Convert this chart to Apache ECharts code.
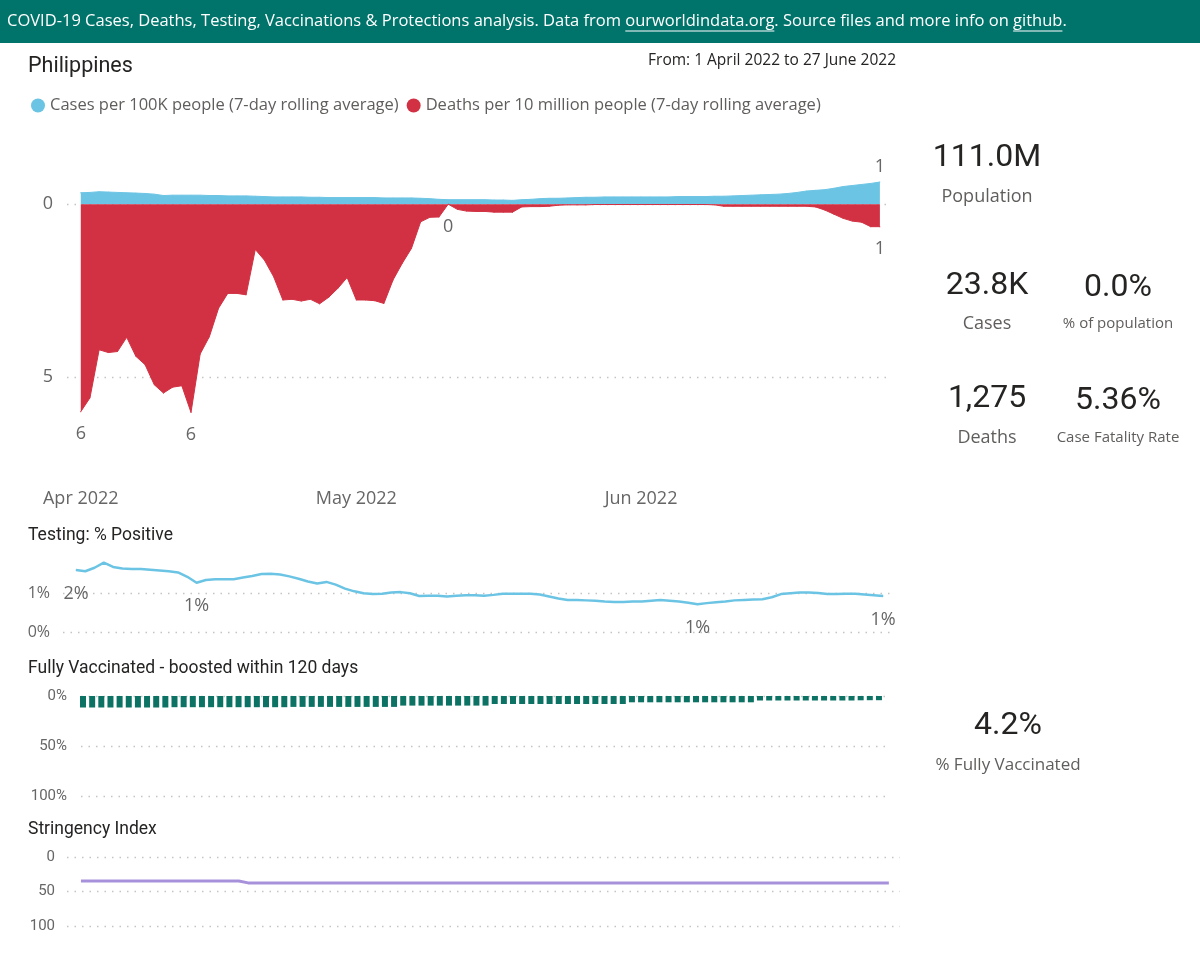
<!DOCTYPE html>
<html>
<head>
<meta charset="utf-8">
<script src="https://cdn.jsdelivr.net/npm/echarts@6/dist/echarts.min.js"></script>
<style>
  html, body { margin: 0; padding: 0; background: #fff; }
  #main { width: 1200px; height: 962px; }
</style>
</head>
<body>
<div id="main"></div>
<script>
// day index 0 = 1 April 2022, 87 = 27 June 2022
var monthTicks = [0, 30, 61];
var monthLabels = ['Apr 2022', 'May 2022', 'Jun 2022'];

var casesPer100k = [
  0.33, 0.34, 0.36, 0.35, 0.34, 0.33, 0.32, 0.31, 0.29, 0.25,
  0.26, 0.26, 0.26, 0.26, 0.25, 0.25, 0.24, 0.24, 0.24, 0.23,
  0.22, 0.21, 0.21, 0.21, 0.21, 0.20, 0.20, 0.19, 0.19, 0.19,
  0.19, 0.19, 0.19, 0.18, 0.18, 0.18, 0.18, 0.17, 0.16, 0.14,
  0.13, 0.13, 0.13, 0.13, 0.13, 0.12, 0.12, 0.11, 0.13, 0.14,
  0.16, 0.17, 0.17, 0.18, 0.19, 0.20, 0.20, 0.21, 0.21, 0.21,
  0.21, 0.21, 0.21, 0.21, 0.21, 0.22, 0.22, 0.22, 0.22, 0.23,
  0.23, 0.24, 0.25, 0.26, 0.27, 0.28, 0.29, 0.31, 0.34, 0.38,
  0.40, 0.42, 0.46, 0.51, 0.54, 0.57, 0.60, 0.64
];
var deathsPer10m = [
  6.00, 5.60, 4.21, 4.29, 4.26, 3.85, 4.40, 4.64, 5.22, 5.46,
  5.29, 5.25, 6.02, 4.33, 3.83, 3.01, 2.58, 2.58, 2.62, 1.31,
  1.62, 2.10, 2.77, 2.75, 2.80, 2.75, 2.88, 2.69, 2.43, 2.12,
  2.77, 2.77, 2.79, 2.87, 2.19, 1.71, 1.28, 0.51, 0.38, 0.37,
  0.00, 0.15, 0.20, 0.21, 0.21, 0.23, 0.23, 0.23, 0.08, 0.07,
  0.07, 0.06, 0.03, 0.02, 0.02, 0.02, 0.01, 0.01, 0.01, 0.01,
  0.01, 0.01, 0.01, 0.01, 0.01, 0.01, 0.01, 0.01, 0.01, 0.02,
  0.06, 0.06, 0.06, 0.06, 0.06, 0.06, 0.06, 0.06, 0.06, 0.06,
  0.08, 0.17, 0.29, 0.41, 0.49, 0.52, 0.65, 0.65
];
var testPositive = [
  1.59, 1.56, 1.65, 1.78, 1.67, 1.63, 1.62, 1.62, 1.60, 1.58,
  1.56, 1.53, 1.42, 1.27, 1.34, 1.36, 1.36, 1.36, 1.40, 1.44,
  1.49, 1.50, 1.48, 1.43, 1.37, 1.30, 1.25, 1.29, 1.22, 1.12,
  1.05, 1.00, 0.98, 0.99, 1.02, 1.03, 1.00, 0.93, 0.94, 0.94,
  0.92, 0.94, 0.95, 0.95, 0.94, 0.96, 0.99, 0.99, 0.99, 0.99,
  0.97, 0.92, 0.87, 0.83, 0.83, 0.82, 0.81, 0.79, 0.78, 0.78,
  0.79, 0.79, 0.81, 0.83, 0.81, 0.79, 0.76, 0.72, 0.75, 0.77,
  0.79, 0.82, 0.83, 0.84, 0.85, 0.90, 0.98, 1.00, 1.02, 1.02,
  1.01, 0.98, 0.98, 0.99, 0.99, 0.97, 0.95, 0.93
];
var boostedPct = [
  11.5, 11.5, 11.5, 11.5, 11.5, 11.5, 11.5, 11.5, 11.5, 11.5,
  11.2, 11.2, 11.2, 11.2, 11.2, 11.2, 11.2, 11.2, 11.2, 11.2,
  11.2, 11.2, 11.2, 10.9, 10.9, 10.9, 10.9, 10.9, 10.9, 10.9,
  10.9, 10.9, 10.9, 10.9, 10.9, 9.6, 9.6, 9.6, 9.6, 9.6,
  9.6, 9.6, 9.6, 9.6, 9.6, 8.0, 8.0, 8.0, 8.0, 8.0,
  8.0, 8.0, 8.0, 8.0, 8.0, 8.0, 8.0, 8.0, 8.0, 8.0,
  6.3, 6.3, 6.3, 6.3, 6.3, 6.3, 6.3, 6.3, 6.3, 6.3,
  6.3, 6.3, 6.3, 6.3, 4.5, 4.5, 4.5, 4.5, 4.5, 4.5,
  4.5, 4.5, 4.5, 4.5, 4.5, 4.3, 4.2, 4.2
];
var stringency = [
  34.72, 34.72, 34.72, 34.72, 34.72, 34.72, 34.72, 34.72, 34.72, 34.72,
  34.72, 34.72, 34.72, 34.72, 34.72, 34.72, 34.72, 37.5, 37.5, 37.5,
  37.5, 37.5, 37.5, 37.5, 37.5, 37.5, 37.5, 37.5, 37.5, 37.5,
  37.5, 37.5, 37.5, 37.5, 37.5, 37.5, 37.5, 37.5, 37.5, 37.5,
  37.5, 37.5, 37.5, 37.5, 37.5, 37.5, 37.5, 37.5, 37.5, 37.5,
  37.5, 37.5, 37.5, 37.5, 37.5, 37.5, 37.5, 37.5, 37.5, 37.5,
  37.5, 37.5, 37.5, 37.5, 37.5, 37.5, 37.5, 37.5, 37.5, 37.5,
  37.5, 37.5, 37.5, 37.5, 37.5, 37.5, 37.5, 37.5, 37.5, 37.5,
  37.5, 37.5, 37.5, 37.5, 37.5, 37.5, 37.5, 37.5
];

// which days carry a data label
var caseLabelDays = [87];
var deathLabelDays = [0, 12, 40, 87];
var testLabelDays = [0, 13, 67, 87];

var kpis = [
  {value: '111.0M', name: 'Population', x: 987, y: 158, ny: 197, ns: 18},
  {value: '23.8K', name: 'Cases', x: 987, y: 286, ny: 324, ns: 18},
  {value: '0.0%', name: '% of population', x: 1118, y: 288, ny: 324, ns: 15},
  {value: '1,275', name: 'Deaths', x: 987, y: 399, ny: 438, ns: 18},
  {value: '5.36%', name: 'Case Fatality Rate', x: 1118, y: 401, ny: 438, ns: 15},
  {value: '4.2%', name: '% Fully Vaccinated', x: 1008, y: 726, ny: 765, ns: 17}
];

var SANS = '"Open Sans", "Noto Sans", sans-serif';
var DIN = 'Roboto, "Noto Sans", sans-serif';
var BLUE = '#6CC4E4';
var RED = '#D13142';
var TEAL = '#00736A';
var PURPLE = '#A891DB';
var GREY = '#666666';
var DARK = '#252423';
var dots = {color: '#c4c4c4', width: 1.3, type: [1.5, 6]};

function toPoints(values, sign, labelDays) {
  return values.map(function (v, i) {
    var item = {value: [i, sign * v]};
    if (labelDays && labelDays.indexOf(i) >= 0) item.label = {show: true};
    return item;
  });
}

function txt(text, x, y, size, family, fill, align) {
  return {
    type: 'text', silent: true,
    style: {
      text: text, x: x, y: y, fontSize: size, fontFamily: family, fill: fill,
      align: align || 'left', textAlign: align || 'left',
      verticalAlign: 'middle', textVerticalAlign: 'middle'
    }
  };
}

// header bar with underlined links
var headerParts = [
  {text: 'COVID-19 Cases, Deaths, Testing, Vaccinations & Protections analysis. Data from '},
  {text: 'ourworldindata.org', link: true},
  {text: '. Source files and more info on '},
  {text: 'github', link: true},
  {text: '.'}
];
var headerSize = 16.5;
var ctx = document.createElement('canvas').getContext('2d');
ctx.font = headerSize + 'px ' + SANS;
var graphics = [{type: 'rect', silent: true, shape: {x: 0, y: 0, width: 1200, height: 43}, style: {fill: TEAL}}];
var hx = 7;
headerParts.forEach(function (p) {
  var w = ctx.measureText(p.text).width;
  graphics.push(txt(p.text, hx, 21, headerSize, SANS, '#ffffff'));
  if (p.link) {
    graphics.push({type: 'line', silent: true, shape: {x1: hx, y1: 31, x2: hx + w, y2: 31}, style: {stroke: '#ffffff', lineWidth: 1}});
  }
  hx += w;
});

graphics.push(txt('Philippines', 28, 67, 21.5, DIN, DARK));
graphics.push(txt('From: 1 April 2022 to 27 June 2022', 896, 61, 15.5, SANS, DARK, 'right'));
graphics.push(txt('Testing: % Positive', 28, 536, 17.5, DIN, DARK));
graphics.push(txt('Fully Vaccinated - boosted within 120 days', 28, 669, 17.5, DIN, DARK));
graphics.push(txt('Stringency Index', 28, 830, 17.5, DIN, DARK));
kpis.forEach(function (k) {
  graphics.push(txt(k.value, k.x, k.y, 32, DIN, DARK, 'center'));
  graphics.push(txt(k.name, k.x, k.ny, k.ns, SANS, '#605E5C', 'center'));
});

function hiddenX(i, min, max) {
  return {gridIndex: i, type: 'value', min: min, max: max, show: false, splitLine: {show: false}};
}

var option = {
  animation: false,
  textStyle: {fontFamily: SANS},
  legend: {
    left: 26, top: 92, icon: 'circle', itemWidth: 14, itemHeight: 14, itemGap: 8,
    textStyle: {fontSize: 16.5, color: '#605E5C', fontFamily: SANS},
    data: [
      {name: 'Cases per 100K people (7-day rolling average)', itemStyle: {color: BLUE}},
      {name: 'Deaths per 10 million people (7-day rolling average)', itemStyle: {color: RED}}
    ],
    selectedMode: false
  },
  graphic: graphics,
  grid: [
    {left: 67, top: 135, width: 823, height: 294},
    {left: 63, top: 554, width: 827, height: 78.6},
    {left: 81, top: 696, width: 805, height: 100},
    {left: 67, top: 857, width: 833, height: 69}
  ],
  xAxis: [
    {
      gridIndex: 0, type: 'value', min: -1.5, max: 88.1,
      axisLine: {show: false}, axisTick: {show: false}, splitLine: {show: false},
      axisLabel: {
        customValues: monthTicks, margin: 61, fontSize: 18, color: GREY, fontFamily: SANS,
        formatter: function (v) { return monthLabels[monthTicks.indexOf(v)]; }
      }
    },
    hiddenX(1, -1.4, 87.75),
    hiddenX(2, -0.22, 87.77),
    hiddenX(3, -1.5, 88.2)
  ],
  yAxis: [
    {
      gridIndex: 0, type: 'value', min: -6.5, max: 2,
      axisLine: {show: false},
      axisTick: {show: false, customValues: [-5, 0]},
      axisLabel: {customValues: [-5, 0], margin: 14, fontSize: 18, color: GREY, fontFamily: SANS,
        formatter: function (v) { return Math.abs(v); }},
      splitLine: {show: true, lineStyle: dots}
    },
    {
      gridIndex: 1, type: 'value', min: 0, max: 2,
      axisLine: {show: false},
      axisTick: {show: false, customValues: [0, 1]},
      axisLabel: {customValues: [0, 1], margin: 13, fontSize: 16, color: GREY, fontFamily: SANS, formatter: '{value}%'},
      splitLine: {show: true, lineStyle: dots}
    },
    {
      gridIndex: 2, type: 'value', min: 0, max: 100, inverse: true,
      axisLine: {show: false},
      axisTick: {show: false, customValues: [0, 50, 100]},
      axisLabel: {customValues: [0, 50, 100], margin: 14, fontSize: 15, color: GREY, fontFamily: DIN, formatter: '{value}%'},
      splitLine: {show: true, lineStyle: dots}
    },
    {
      gridIndex: 3, type: 'value', min: 0, max: 100, inverse: true,
      axisLine: {show: false},
      axisTick: {show: false, customValues: [0, 50, 100]},
      axisLabel: {customValues: [0, 50, 100], margin: 12, fontSize: 15, color: GREY, fontFamily: DIN},
      splitLine: {show: true, lineStyle: dots}
    }
  ],
  series: [
    {
      name: 'Cases per 100K people (7-day rolling average)',
      type: 'line', xAxisIndex: 0, yAxisIndex: 0,
      data: toPoints(casesPer100k, 1, caseLabelDays),
      symbol: 'circle', symbolSize: 1, showSymbol: true,
      itemStyle: {color: BLUE}, lineStyle: {color: BLUE, width: 1},
      areaStyle: {color: BLUE, opacity: 1},
      label: {show: false, position: 'top', distance: 6, fontSize: 18, color: GREY, fontFamily: SANS,
        formatter: function (p) { return Math.round(Math.abs(p.value[1])); }},
      silent: true
    },
    {
      name: 'Deaths per 10 million people (7-day rolling average)',
      type: 'line', xAxisIndex: 0, yAxisIndex: 0,
      data: toPoints(deathsPer10m, -1, deathLabelDays),
      symbol: 'circle', symbolSize: 1, showSymbol: true,
      itemStyle: {color: RED}, lineStyle: {color: RED, width: 1},
      areaStyle: {color: RED, opacity: 1},
      label: {show: false, position: 'bottom', distance: 13, fontSize: 18, color: GREY, fontFamily: SANS,
        formatter: function (p) { return Math.round(Math.abs(p.value[1])); }},
      silent: true
    },
    {
      name: 'Testing % positive',
      type: 'line', xAxisIndex: 1, yAxisIndex: 1,
      data: toPoints(testPositive, 1, testLabelDays),
      symbol: 'circle', symbolSize: 1, showSymbol: true,
      itemStyle: {color: BLUE}, lineStyle: {color: BLUE, width: 2.5},
      label: {show: false, position: 'bottom', distance: 14, fontSize: 18, color: GREY, fontFamily: SANS,
        formatter: function (p) { return Math.round(p.value[1]) + '%'; }},
      silent: true
    },
    {
      name: 'Boosted within 120 days',
      type: 'bar', xAxisIndex: 2, yAxisIndex: 2,
      data: toPoints(boostedPct, 1, null),
      barWidth: 6, clip: false,
      itemStyle: {color: '#0B7264'},
      silent: true
    },
    {
      name: 'Stringency Index',
      type: 'line', xAxisIndex: 3, yAxisIndex: 3,
      data: toPoints(stringency, 1, null),
      step: 'end', symbol: 'none',
      lineStyle: {color: PURPLE, width: 3},
      silent: true
    }
  ]
};

var chart = echarts.init(document.getElementById('main'), null, {renderer: 'canvas'});
chart.setOption(option);
</script>
</body>
</html>
